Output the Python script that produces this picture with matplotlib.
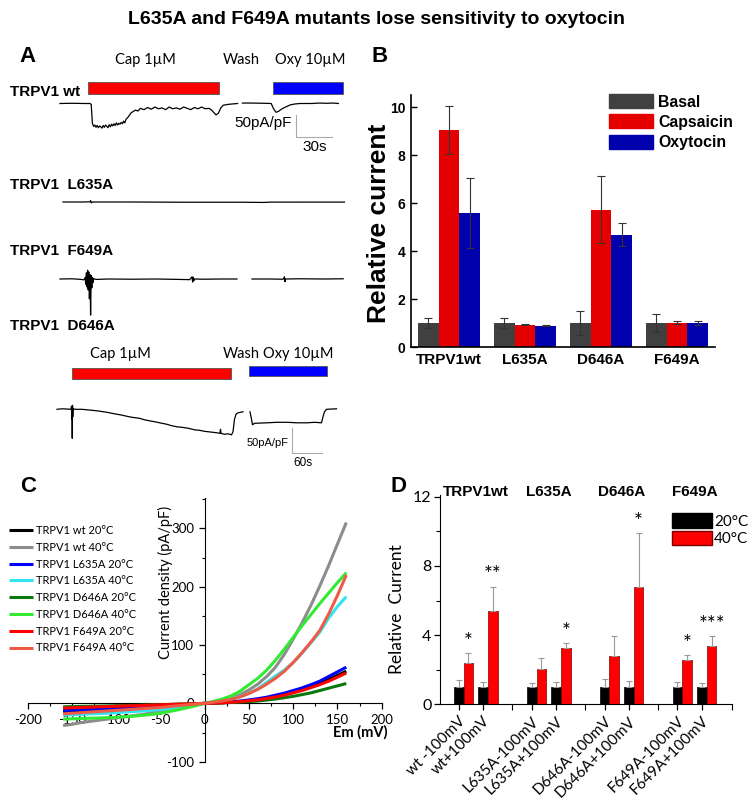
import matplotlib
matplotlib.use('Agg')
import matplotlib.pyplot as plt
import matplotlib.transforms as mtransforms
from matplotlib.patches import Rectangle, Patch
from matplotlib.ticker import MultipleLocator, FixedLocator

plt.rcParams['axes.unicode_minus'] = False

ARIAL = ['Liberation Sans', 'DejaVu Sans']
CALI = ['Lato', 'DejaVu Sans']

# ---------------- DATA ----------------
title = 'L635A and F649A mutants lose sensitivity to oxytocin'

# Panel A traces: (time s, current pA/pF)
wt_seg1_t = [0, 10, 20, 25, 26, 27, 28, 29, 30, 31, 32, 33, 34, 35, 36, 37, 38, 39, 40, 41, 42, 43, 44, 45, 46,
             47, 48, 49, 50, 51, 52, 53, 54, 55, 57, 59, 61, 63, 65, 67, 70, 73, 76, 79, 82, 85, 88, 91, 94,
             97, 100, 103, 106, 109, 112, 115, 118, 121, 124, 126, 128, 130, 132, 134, 136, 140, 144, 148]
wt_seg1_i = [0, 0.5, 0, 0, -2, -45, -52, -49, -54, -50, -55, -51, -53, -56, -50, -54, -49, -52, -55, -48, -53,
             -47, -51, -46, -50, -44, -49, -45, -47, -43, -46, -40, -44, -36, -30, -22, -18, -15, -17, -11,
             -14, -9, -13, -8, -12, -10, -14, -8, -12, -10, -13, -8, -11, -14, -9, -12, -8, -12, -11, -14,
             -20, -26, -22, -10, -4, -2, -1, 0]
wt_seg2_t = [152, 160, 170, 176, 178, 180, 182, 185, 188, 192, 196, 200, 210, 216, 222, 228, 232]
wt_seg2_i = [1, 1, 0.5, 0, -12, -20, -18, -12, -8, -3, -1, 0, 0, 1, 0.5, 1, 0]

l635_t = [2.5, 20, 25, 25.5, 26, 27, 60, 100, 150, 170, 175, 200, 237]
l635_i = [0, 0, 0.5, 3, -2, 0, 0, -0.5, -0.5, -1, -0.3, -0.2, -0.2]

f649_seg1_t = [0, 10, 18, 20, 21, 21.5, 22, 22.5, 23, 23.5, 24, 24.5, 25, 25.5, 26, 26.5, 27, 27.5, 28, 30,
               40, 60, 80, 100, 108, 110, 110.5, 111, 111.5, 112, 120, 135, 147.5]
f649_seg1_i = [0, 0.5, -1, -2, 4, -12, 14, -18, 20, -25, 16, -45, 10, -82, 8, -20, 4, -8, 1, -1,
               0, -0.5, 0, -1, -1.5, 5, -7, 4, -4, 0, -0.5, 0, 0]
f649_seg2_t = [160, 175, 186, 187, 187.5, 188, 200, 220, 236]
f649_seg2_i = [0, 0, -0.5, 5, -6, 0, 0.5, 0, 0.5]

d646_seg1_t = [0, 10, 20, 28, 29, 29.5, 30, 30.5, 31, 31.5, 32, 35, 50, 63, 80, 100, 115, 129, 140, 150, 165,
               175, 185, 196, 210, 220, 230, 240, 250, 263, 275, 285, 295, 303, 312, 320, 326, 327, 328, 335,
               342, 349, 352, 355, 358, 362, 372]
d646_seg1_i = [0, 1, 0.5, 0, 6, -20, 5, -58, 8, -15, 2, 0, 0, -1.3, -3, -6, -9, -11.5, -14, -16, -18,
               -21, -23, -25, -28, -30, -33, -35, -36, -38, -41, -42, -44, -45, -46, -47, -48, -40, -48, -50,
               -49, -51, -45, -20, -10, -7, -5]
d646_seg2_t = [386, 389, 391, 395, 420, 440, 460, 480, 500, 515, 529, 532, 535, 539, 559]
d646_seg2_i = [-5, -20, -31, -28, -27, -26, -26, -27, -27, -26, -27, -15, -5, 0, 1]

# Panel B
groups_b = ['TRPV1wt', 'L635A', 'D646A', 'F649A']
basal = [1.0, 1.0, 1.0, 1.0]
basal_err = [0.2, 0.22, 0.5, 0.37]
capsaicin = [9.05, 0.93, 5.72, 1.02]
capsaicin_err = [1.0, 0.02, 1.4, 0.06]
oxytocin = [5.58, 0.89, 4.68, 1.0]
oxytocin_err = [1.45, 0.02, 0.48, 0.1]

# Panel C : I-V curves
em = [-160, -150, -140, -130, -120, -110, -100, -90, -80, -70, -60, -50, -40, -30, -20, -10, 0,
      10, 20, 30, 40, 50, 60, 70, 80, 90, 100, 110, 120, 130, 140, 150, 160]
wt20 = [-14, -13, -12, -11.5, -11, -10, -9.5, -9, -8, -7, -6, -5, -4, -3, -2, -1, 0,
        0.5, 1, 2, 3, 4.5, 6.5, 9, 12, 15, 19, 24, 29, 35, 41, 48, 55]
wt40 = [-38, -36, -33, -31, -29, -27, -25, -23, -21, -19, -16, -14, -11, -8, -5.5, -2.5, 0,
        2, 5, 9, 15, 23, 33, 46, 62, 84, 110, 138, 168, 201, 236, 273, 310]
l635a20 = [-12, -11.5, -11, -10.5, -10, -9.5, -9, -8.5, -8, -7, -6.5, -5.5, -4.5, -3.5, -2.5, -1, 0,
           0.5, 1.5, 2.5, 4, 6, 8, 10.5, 14, 17.5, 22, 26.5, 32, 38, 46, 54, 62]
l635a40 = [-20, -19.5, -19, -18, -17.5, -17, -16, -15, -14, -13, -12, -10.5, -9, -7, -4.5, -2, 0,
           2, 4.5, 7.5, 11.5, 17, 25, 36, 47, 57, 70, 86, 104, 122, 146, 166, 183]
d646a20 = [-6, -5.5, -5.2, -5, -4.7, -4.4, -4, -3.7, -3.4, -3, -2.6, -2.2, -1.8, -1.3, -0.9, -0.4, 0,
           0.3, 0.8, 1.5, 2.2, 3, 4, 5.7, 7.4, 9.7, 12, 15, 18, 22, 26, 30, 34]
d646a40 = [-27, -26.5, -26, -25.5, -25, -24.5, -24, -23, -22, -20.5, -19, -17, -14, -11, -7.5, -4, 0,
           3.5, 7.5, 13, 21, 32, 43, 57, 74, 93, 113, 133, 152, 171, 189, 207, 224]
f649a20 = [-8, -7.5, -7, -6.5, -6, -5.5, -5, -4.5, -4, -3.5, -3, -2.5, -2, -1.5, -1, -0.5, 0,
           0.5, 1, 2, 3, 4.5, 6, 8.5, 11, 14, 18, 22, 27, 32, 38, 45, 52]
f649a40 = [-18, -17, -16, -15, -14, -13, -12, -11, -10, -9, -8, -7, -5.5, -4, -2.5, -1, 0,
           2, 4, 7, 11, 17, 24, 33, 43, 55, 70, 87, 105, 125, 153, 185, 220]
iv_series = [wt20, wt40, l635a20, l635a40, d646a20, d646a40, f649a20, f649a40]
iv_labels = ['TRPV1 wt 20°C', 'TRPV1 wt 40°C', 'TRPV1 L635A 20°C', 'TRPV1 L635A 40°C',
             'TRPV1 D646A 20°C', 'TRPV1 D646A 40°C', 'TRPV1 F649A 20°C', 'TRPV1 F649A 40°C']
iv_colors = ['#000000', '#8c8c8c', '#0000ff', '#30e4f0', '#0b780b', '#33ea33', '#ff0000', '#f05a44']

# Panel D
d_labels = ['wt -100mV', 'wt+100mV', 'L635A-100mV', 'L635A+100mV',
            'D646A-100mV', 'D646A+100mV', 'F649A-100mV', 'F649A+100mV']
d_pos = [0, 1, 3, 4, 6, 7, 9, 10]
d_sep = [2.2, 5.2, 8.2]
c20 = [1, 1, 1, 1, 1, 1, 1, 1]
c20_err = [0.4, 0.3, 0.25, 0.3, 0.45, 0.37, 0.3, 0.25]
c40 = [2.41, 5.41, 2.06, 3.24, 2.81, 6.80, 2.56, 3.39]
c40_err = [0.54, 1.39, 0.60, 0.29, 1.16, 3.08, 0.29, 0.56]
d_sig = ['*', '**', '', '*', '', '*', '*', '***']
d_groups = ['TRPV1wt', 'L635A', 'D646A', 'F649A']

# ---------------- FIGURE ----------------
W, H = 754, 800
fig = plt.figure(figsize=(W / 100, H / 100), dpi=100)


def px_axes(x0, y0, x1, y1):
    return fig.add_axes([x0 / W, 1 - y1 / H, (x1 - x0) / W, (y1 - y0) / H])


def ftext(x, y, s, **kw):
    fig.text(x / W, 1 - y / H, s, **kw)


ftext(377, 20, title, ha='center', va='center', fontsize=14, fontweight='bold', family=ARIAL)
for lab, (x, y) in zip('ABCD', [(28, 56), (380, 56), (28, 487), (398, 487)]):
    ftext(x, y, lab, ha='center', va='center', fontsize=16, fontweight='bold', family=ARIAL)

for s, y in [('TRPV1 wt', 92), ('TRPV1  L635A', 185), ('TRPV1  F649A', 251), ('TRPV1  D646A', 326)]:
    ftext(10, y, s, ha='left', va='center', fontsize=11, fontweight='bold', family=ARIAL)


def trace_axes(box, origin, scale):
    x0, y0, x1, y1 = box
    tpx, ipx = origin
    sx, sy = scale
    ax = px_axes(x0, y0, x1, y1)
    ax.set_xlim((x0 - tpx) / sx, (x1 - tpx) / sx)
    ax.set_ylim((ipx - y1) / sy, (ipx - y0) / sy)
    ax.axis('off')
    return ax


def drug_bar(ax, t0, t1, i0, i1, color):
    ax.add_patch(Rectangle((t0, i0), t1 - t0, i1 - i0, facecolor=color, edgecolor='#555555', lw=0.6))


tr_kw = dict(color='black', lw=0.9)

# wt trace
axA1 = trace_axes((40, 45, 350, 160), (60, 103.5), (1.2, 0.44))
axA1.plot(wt_seg1_t, wt_seg1_i, **tr_kw)
axA1.plot(wt_seg2_t, wt_seg2_i, **tr_kw)
drug_bar(axA1, 23.3, 132.5, 21.6, 48.9, '#ff0000')
drug_bar(axA1, 177.5, 235.8, 21.6, 48.9, '#0000ff')
for s, t in [('Cap 1µM', 70.8), ('Wash', 150.8), ('Oxy 10µM', 208.3)]:
    axA1.text(t, 99, s, ha='center', va='center', fontsize=10.5, family=CALI)
axA1.plot([197, 197, 227], [-26, -76, -76], color='#aaaaaa', lw=0.8)
axA1.text(193, -45, '50pA/pF', ha='right', va='center', fontsize=11, family=ARIAL)
axA1.text(212, -99, '30s', ha='center', va='center', fontsize=11, family=ARIAL)

# L635A trace
axA2 = trace_axes((40, 190, 350, 215), (60, 202), (1.2, 0.44))
axA2.plot(l635_t, l635_i, **tr_kw)

# F649A trace
axA3 = trace_axes((40, 258, 350, 322), (60, 279), (1.2, 0.44))
axA3.plot(f649_seg1_t, f649_seg1_i, **tr_kw)
axA3.plot(f649_seg2_t, f649_seg2_i, **tr_kw)

# D646A trace
axA4 = trace_axes((40, 340, 350, 475), (57, 409.3), (0.5, 0.5))
axA4.plot(d646_seg1_t, d646_seg1_i, **tr_kw)
axA4.plot(d646_seg2_t, d646_seg2_i, **tr_kw)
drug_bar(axA4, 30, 348, 60, 82, '#ff0000')
drug_bar(axA4, 384, 540, 66, 86, '#0000ff')
for s, t in [('Cap 1µM', 126), ('Wash', 368), ('Oxy 10µM', 482)]:
    axA4.text(t, 110.6, s, ha='center', va='center', fontsize=10.5, family=CALI)
axA4.plot([470, 470, 530], [-38, -88, -88], color='#aaaaaa', lw=0.8)
axA4.text(422, -68, '50pA/pF', ha='center', va='center', fontsize=8, family=ARIAL)
axA4.text(492, -108, '60s', ha='center', va='center', fontsize=8.5, family=ARIAL)

# ---------------- Panel B ----------------
axB = px_axes(411, 95, 715, 347)
xb = list(range(len(groups_b)))
wb = 0.27
ekw = dict(ecolor='#333333', elinewidth=0.8, capthick=0.8)
cols_b = ['#404040', '#e40000', '#0000ad']
for off, vals, errs, col, lab in [(-wb, basal, basal_err, cols_b[0], 'Basal'),
                                  (0, capsaicin, capsaicin_err, cols_b[1], 'Capsaicin'),
                                  (wb, oxytocin, oxytocin_err, cols_b[2], 'Oxytocin')]:
    axB.bar([x + off for x in xb], vals, wb, color=col, edgecolor='none', yerr=errs,
            capsize=3, error_kw=ekw, label=lab)
axB.set_xlim(-0.5, 3.5)
axB.set_ylim(0, 10.5)
axB.spines['top'].set_visible(False)
axB.spines['right'].set_visible(False)
axB.spines['left'].set_linewidth(1.2)
axB.spines['bottom'].set_linewidth(1.2)
axB.set_yticks([0, 2, 4, 6, 8, 10])
axB.tick_params(axis='y', direction='in', length=4, width=1, labelsize=10, pad=4)
axB.set_xticks(xb)
axB.set_xticklabels(groups_b)
axB.tick_params(axis='x', length=0, labelsize=11, pad=4)
for t in axB.get_yticklabels() + axB.get_xticklabels():
    t.set_fontweight('bold')
    t.set_family(ARIAL)
axB.set_ylabel('Relative current', fontsize=19, fontweight='bold', family=ARIAL)
axB.yaxis.set_label_coords(-0.065, 0.49)
fig.legend(handles=[Patch(color=c) for c in cols_b], labels=['Basal', 'Capsaicin', 'Oxytocin'],
           loc='upper left', bbox_to_anchor=(609 / W, 1 - 94 / H), frameon=False,
           prop=dict(family=ARIAL, weight='bold', size=11.4), handlelength=2.8, handleheight=1.0,
           labelspacing=0.3, handletextpad=0.3, borderpad=0, borderaxespad=0)

# ---------------- Panel C ----------------
axC = px_axes(27.7, 498, 381.7, 761.7)
for ys, lab, col in zip(iv_series, iv_labels, iv_colors):
    axC.plot(em, ys, color=col, lw=2.2, label=lab, zorder=3, solid_capstyle='butt',
             solid_joinstyle='round')
axC.set_xlim(-200, 200)
axC.set_ylim(-100, 352)
axC.spines['left'].set_position(('data', 0))
axC.spines['bottom'].set_position(('data', 0))
axC.spines['top'].set_visible(False)
axC.spines['right'].set_visible(False)
axC.xaxis.set_major_locator(MultipleLocator(50))
axC.xaxis.set_minor_locator(MultipleLocator(25))
axC.yaxis.set_major_locator(FixedLocator([-100, 0, 100, 200, 300]))
axC.yaxis.set_minor_locator(FixedLocator([-50, 50, 150, 250, 350]))
axC.tick_params(which='major', direction='out', length=4, width=0.9, labelsize=9.5)
axC.tick_params(which='minor', direction='out', length=2.5, width=0.8)
for t in axC.get_xticklabels() + axC.get_yticklabels():
    t.set_family(CALI)
axC.set_ylabel('Current density (pA/pF)', fontsize=10.5, family=CALI)
axC.yaxis.set_label_coords(0.41, 0.678)
axC.set_xlabel('Em (mV)', fontsize=10.5, fontweight='bold', family=CALI)
axC.xaxis.set_label_coords(0.94, 0.14)
fig.legend(handles=axC.get_lines(), labels=iv_labels, loc='upper left',
           bbox_to_anchor=(9 / W, 1 - 525 / H), frameon=False, prop=dict(family=CALI, size=8),
           handlelength=2.2, handletextpad=0.2, labelspacing=0.52, borderpad=0, borderaxespad=0)

# ---------------- Panel D ----------------
axD = px_axes(440, 495, 731.7, 704.3)
wd = 0.4
axD.bar(d_pos, c20, wd, color='black', edgecolor='black', lw=0.5,
        yerr=[[0] * len(c20), c20_err], capsize=2.5,
        error_kw=dict(ecolor='#999999', elinewidth=0.8, capthick=0.8))
axD.bar([p + wd for p in d_pos], c40, wd, color='#ff0000', edgecolor='#7a0000', lw=0.5,
        yerr=[[0] * len(c40), c40_err], capsize=2.5,
        error_kw=dict(ecolor='#999999', elinewidth=0.8, capthick=0.8))
for p, v, e, s in zip(d_pos, c40, c40_err, d_sig):
    if s:
        axD.text(p + wd, v + e + 0.3, s, ha='center', va='baseline', fontsize=15, family=CALI)
axD.set_xlim(-0.77, 11.23)
axD.set_ylim(0, 12.1)
axD.spines['top'].set_visible(False)
axD.spines['right'].set_visible(False)
axD.set_yticks([0, 4, 8, 12])
axD.yaxis.set_minor_locator(FixedLocator([2, 6, 10]))
axD.set_xticks(d_pos)
axD.set_xticklabels(d_labels, rotation=45, ha='right', rotation_mode='anchor')
axD.xaxis.set_minor_locator(FixedLocator(d_sep + [11.23]))
axD.tick_params(which='major', direction='out', length=4, width=0.9, labelsize=11.5, pad=2)
axD.tick_params(axis='x', which='major', labelsize=11, pad=3)
axD.tick_params(which='minor', direction='out', length=3, width=0.8)
axD.tick_params(axis='x', which='minor', length=4)
for t in axD.get_xticklabels() + axD.get_yticklabels():
    t.set_family(CALI)
axD.set_ylabel('Relative  Current', fontsize=12.5, family=CALI)
axD.yaxis.set_label_coords(-0.12, 0.454)
trD = mtransforms.blended_transform_factory(axD.transData, axD.transAxes)
for g, name in enumerate(d_groups):
    gx = (d_pos[2 * g] + d_pos[2 * g + 1] + wd) / 2
    axD.text(gx, 1.015, name, transform=trD, ha='center', va='center', fontsize=11,
             fontweight='bold', family=ARIAL)
fig.legend(handles=[Patch(facecolor='black', edgecolor='black'),
                    Patch(facecolor='#ff0000', edgecolor='#7a0000')],
           labels=['20°C', '40°C'], loc='upper left', bbox_to_anchor=(672 / W, 1 - 513 / H),
           frameon=False, prop=dict(family=CALI, size=11), handlelength=2.6, handleheight=1.1,
           labelspacing=0.15, handletextpad=0.15, borderpad=0, borderaxespad=0)

fig.savefig('out.png', dpi=100)
